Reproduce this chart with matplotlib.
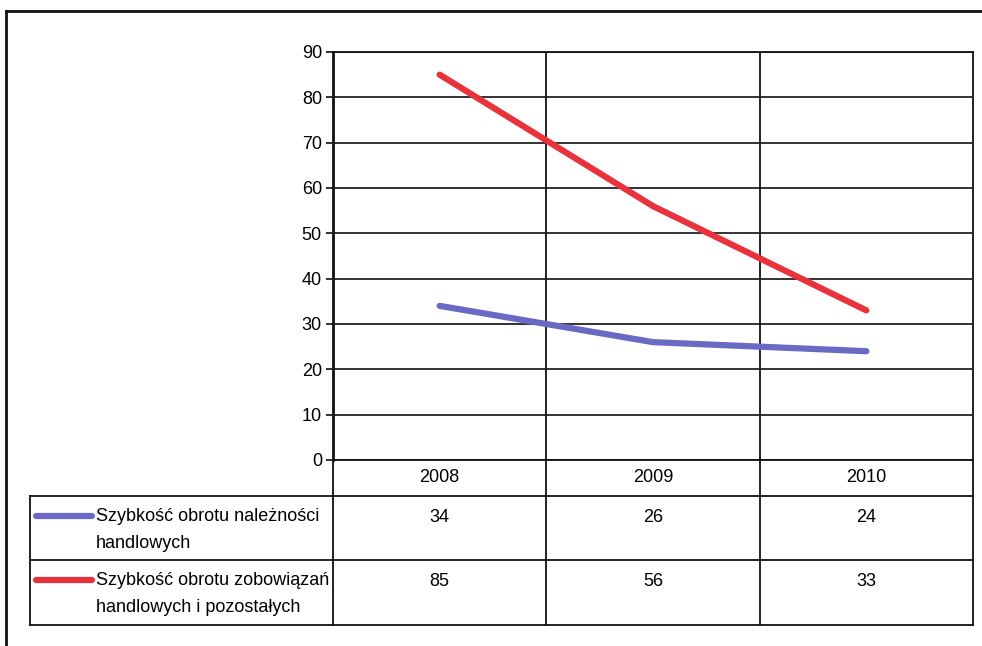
import matplotlib
matplotlib.use("Agg")
import matplotlib.pyplot as plt
from matplotlib.lines import Line2D

years = ['2008', '2009', '2010']
series_names = ['Szybkość obrotu należności\nhandlowych',
                'Szybkość obrotu zobowiązań\nhandlowych i pozostałych']
naleznosci = [34, 26, 24]
zobowiazania = [85, 56, 33]
series_values = [naleznosci, zobowiazania]
series_colors = ['#6a6ac4', '#e8333d']
yticks = [0, 10, 20, 30, 40, 50, 60, 70, 80, 90]

plt.rcParams['font.family'] = ['Liberation Sans', 'DejaVu Sans']
FS = 13

W, H = 982, 646
fig = plt.figure(figsize=(W / 100, H / 100), dpi=100)

def fx(x):
    return x / W

def fy(y):
    return 1 - y / H

def hline(x0, x1, y, lw=1.3):
    fig.add_artist(Line2D([fx(x0), fx(x1)], [fy(y), fy(y)], color='#111111', lw=lw))

def vline(x, y0, y1, lw=1.3):
    fig.add_artist(Line2D([fx(x), fx(x)], [fy(y0), fy(y1)], color='#111111', lw=lw))

# outer frame
hline(6, 982, 11, lw=2)
vline(6, 11, 646, lw=2)

left, right, top, bottom = 333, 973, 52, 460
ax = fig.add_axes([fx(left), fy(bottom), fx(right - left), (bottom - top) / H])
x = list(range(len(years)))
for vals, col in zip(series_values, series_colors):
    ax.plot(x, vals, color=col, lw=4.5, solid_capstyle='round', zorder=3)
ax.set_xlim(-0.5, len(years) - 0.5)
ax.set_ylim(0, 90)
ax.set_yticks(yticks)
ax.set_yticklabels([str(v) for v in yticks], fontsize=FS)
ax.tick_params(axis='y', length=5, width=1.2, color='#111111', pad=3)
ax.set_xticks([])
for v in yticks:
    ax.axhline(v, color='#111111', lw=1.2, zorder=1)
for b in range(len(years) - 1):
    ax.axvline(b + 0.5, color='#111111', lw=1.3, zorder=1)
for s in ax.spines.values():
    s.set_color('#111111')
    s.set_linewidth(1.3)
ax.spines['left'].set_linewidth(2)

# data table below
col_w = (right - left) / len(years)
row_y = [460, 496, 560, 625]
hline(30, right, 496)
hline(30, right, 560)
hline(30, right, 625)
vline(30, 496, 625)
for i in range(len(years) + 1):
    vline(left + i * col_w, 460, 625)
for i, yr in enumerate(years):
    fig.text(fx(left + (i + 0.5) * col_w), fy(478), yr, ha='center', va='center', fontsize=FS)
for r, (name, vals, col) in enumerate(zip(series_names, series_values, series_colors)):
    y0 = row_y[r + 1]
    fig.add_artist(Line2D([fx(36), fx(92)], [fy(y0 + 20), fy(y0 + 20)], color=col, lw=4.5,
                          solid_capstyle='round'))
    fig.text(fx(96), fy(y0 + 12), name, ha='left', va='top', fontsize=FS, linespacing=1.8)
    for i, v in enumerate(vals):
        fig.text(fx(left + (i + 0.5) * col_w), fy(y0 + 21), str(v), ha='center', va='center',
                 fontsize=FS)

fig.savefig('out.png', dpi=100)
